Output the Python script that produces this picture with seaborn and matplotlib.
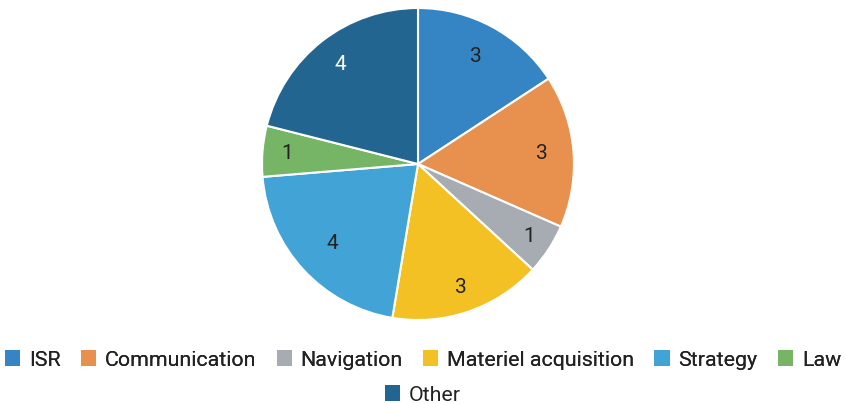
import matplotlib
matplotlib.use("Agg")
import numpy as np
import matplotlib.pyplot as plt
from matplotlib.patches import Patch
import seaborn as sns

categories = ["ISR", "Communication", "Navigation", "Materiel acquisition", "Strategy", "Law", "Other"]
values = [3, 3, 1, 3, 4, 1, 4]
colors = ["#3584c3", "#e8914f", "#a7acb2", "#f4c124", "#41a3d6", "#77b566", "#236591"]
label_colors = ["#222222", "#222222", "#222222", "#222222", "#222222", "#222222", "#ffffff"]
label_dist = [0.78, 0.80, 0.85, 0.84, 0.75, 0.84, 0.81]

sns.set_theme(style="white")
plt.rcParams['font.family'] = ['Roboto', 'DejaVu Sans']

palette = sns.color_palette(colors)

fig = plt.figure(figsize=(8.46, 4.04), dpi=100)
ax = fig.add_axes([262/846, 84/404, 312/846, 312/404])
wedges, texts = ax.pie(values, colors=palette, startangle=90, counterclock=False,
                       labels=[str(v) for v in values], labeldistance=0.8,
                       wedgeprops=dict(edgecolor="white", linewidth=1.5),
                       textprops=dict(fontsize=15))
for w, t, c, d in zip(wedges, texts, label_colors, label_dist):
    ang = np.deg2rad((w.theta1 + w.theta2) / 2)
    t.set_position((d * np.cos(ang), d * np.sin(ang)))
    t.set_color(c)
    t.set_ha("center")
    t.set_va("center")
ax.set_xlim(-1, 1)
ax.set_ylim(-1, 1)
ax.set_aspect("equal")

handles = [Patch(facecolor=c, edgecolor="none") for c in palette]
common = dict(frameon=False, fontsize=15.4, handlelength=0.72, handleheight=0.72,
              handletextpad=0.4, columnspacing=0.95, borderpad=0, borderaxespad=0,
              labelcolor="#222222")
leg1 = fig.legend(handles[:6], categories[:6], ncol=6, loc="center",
                  bbox_to_anchor=(0.5, 1 - 360/404), **common)
fig.add_artist(leg1)
leg2 = fig.legend(handles[6:], categories[6:], ncol=1, loc="center",
                  bbox_to_anchor=(0.5, 1 - 395/404), **common)

fig.savefig("out.png", dpi=100)
